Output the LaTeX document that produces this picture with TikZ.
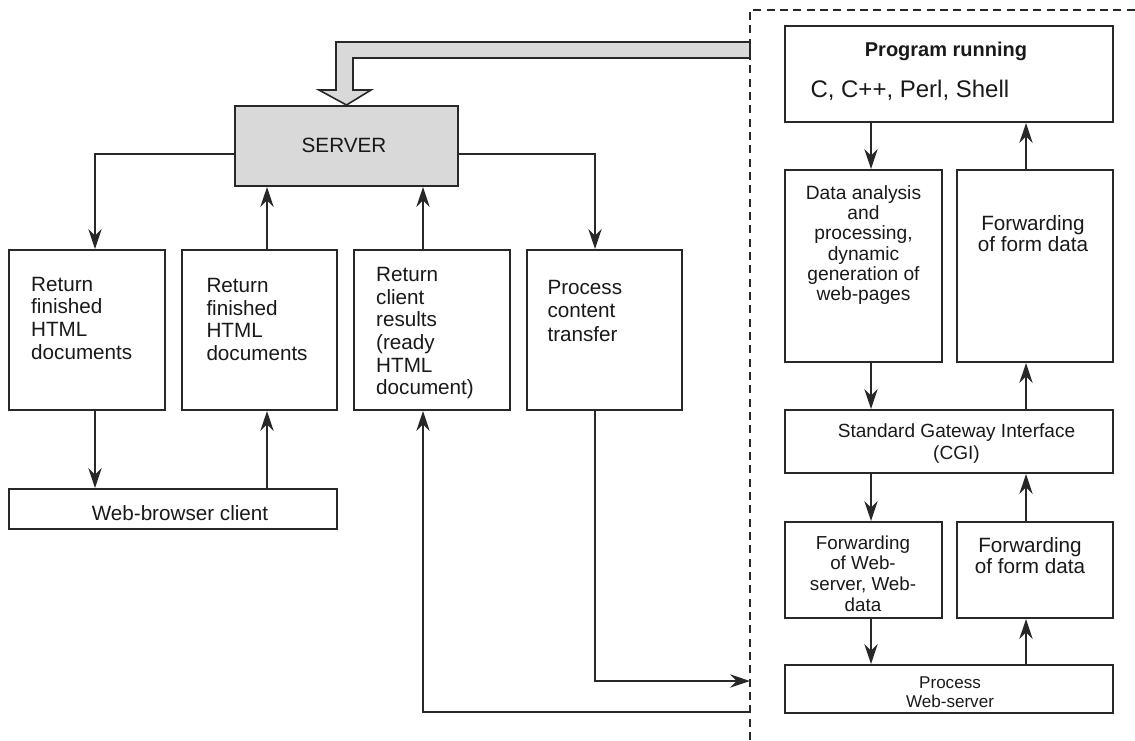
\documentclass[tikz,border=0pt]{standalone}
\usepackage{fontspec}
\setmainfont{Liberation Sans}
\usetikzlibrary{arrows.meta,calc}
\definecolor{linec}{RGB}{40,40,40}
\definecolor{txtc}{RGB}{25,25,25}
\definecolor{srvfill}{RGB}{217,217,217}
\tikzset{every picture/.style={line width=0.75pt}}
\tikzset{
  box/.style={draw=linec, line width=1.5pt, anchor=north west, inner sep=0pt},
  conn/.style={draw=linec, line width=1.3pt, -{Stealth[length=15pt,width=10pt,inset=5pt]}},
  frame/.style={draw=linec, line width=1.5pt, dash pattern=on 6pt off 4pt},
  lbl/.style={inner sep=0pt, text=txtc, align=left, anchor=north west, font=\fontsize{15.5}{16.9}\selectfont},
  ctr/.style={inner sep=0pt, text=txtc, align=center, anchor=north}
}

\begin{document}
\begin{tikzpicture}[x=0.75pt,y=0.75pt,yscale=-1,xscale=1]
\useasboundingbox (0,0) rectangle (1135,740);

%Shape: Rectangle [server]
\node[box, fill=srvfill, minimum width=167.25pt, minimum height=60pt] (server) at (234,105) {};
%Shape: Rectangle [left row]
\node[box, minimum width=117pt, minimum height=120pt] (ret1) at (8,249) {};
\node[box, minimum width=116.25pt, minimum height=120pt] (ret2) at (181,249) {};
\node[box, minimum width=117pt, minimum height=120pt] (ret3) at (353,249) {};
\node[box, minimum width=116.25pt, minimum height=120pt] (proct) at (526,249) {};
\node[box, minimum width=246pt, minimum height=30pt] (client) at (8,488) {};
%Shape: Rectangle [right column]
\node[box, minimum width=246.5pt, minimum height=72pt] (prog) at (783.5,25) {};
\node[box, minimum width=117.75pt, minimum height=144pt] (data) at (783.5,169) {};
\node[box, minimum width=117pt, minimum height=144pt] (fwdA) at (956,169) {};
\node[box, minimum width=246.5pt, minimum height=47.25pt] (cgi) at (783.5,409) {};
\node[box, minimum width=117.75pt, minimum height=72pt] (fwdB) at (783.5,521) {};
\node[box, minimum width=117pt, minimum height=72pt] (fwdC) at (956,521) {};
\node[box, minimum width=246.5pt, minimum height=36pt] (webs) at (783.5,664) {};

%Shape: big arrow into server
\draw[draw=linec, line width=1.2pt, fill=srvfill] (750,42) -- (336,42) -- (336,90) -- (319,90) -- (server.north) -- (371,90) -- (353,90) -- (353,58) -- (750,58) -- cycle;

%Dashed frame
\coordinate (fr1) at (750,740);
\coordinate (fr2) at (750,10);
\coordinate (fr3) at (1135,10);
\draw[frame] (fr1) -- (fr2) -- (fr3);

%connector columns
\coordinate (c1) at (95,0);
\coordinate (c2) at (267,0);
\coordinate (c3) at (423,0);
\coordinate (c4) at (595,0);
\coordinate (cd) at (871,0);
\coordinate (cu) at (1026,0);
\coordinate (gin) at (750,681);
\coordinate (gout) at (750,712);

%Lines [left]
\draw[conn] ($(server.west)+(0,8)$) -| (c1 |- ret1.north);
\draw[conn] ($(server.east)+(0,8)$) -| (c4 |- proct.north);
\draw[conn] (c2 |- ret2.north) -- (c2 |- server.south);
\draw[conn] (c3 |- ret3.north) -- (c3 |- server.south);
\draw[conn] (c1 |- ret1.south) -- (c1 |- client.north);
\draw[conn] (c2 |- client.north) -- (c2 |- ret2.south);
\draw[conn] (c4 |- proct.south) |- (gin);
\draw[conn] (gout) -| (c3 |- ret3.south);
%Lines [right]
\draw[conn] (cd |- prog.south) -- (cd |- data.north);
\draw[conn] (cu |- fwdA.north) -- (cu |- prog.south);
\draw[conn] (cd |- data.south) -- (cd |- cgi.north);
\draw[conn] (cu |- cgi.north) -- (cu |- fwdA.south);
\draw[conn] (cd |- cgi.south) -- (cd |- fwdB.north);
\draw[conn] (cu |- fwdC.north) -- (cu |- cgi.south);
\draw[conn] (cd |- fwdB.south) -- (cd |- webs.north);
\draw[conn] (cu |- webs.north) -- (cu |- fwdC.south);

% Text Node
\node[inner sep=0pt, text=txtc, font=\fontsize{15.5}{17}\selectfont] (tserver) at (344,145) {SERVER};
% Text Node
\node[lbl] (tret1) at (30.7,276.7) {Return\\finished\\HTML\\documents};
% Text Node
\node[lbl] (tret2) at (206,278) {Return\\finished\\HTML\\documents};
% Text Node
\node[lbl, font=\fontsize{15.5}{17}\selectfont] (tret3) at (375.7,266.7) {Return\\client\\results\\(ready\\HTML\\document)};
% Text Node
\node[lbl, font=\fontsize{15.5}{17.4}\selectfont] (tproct) at (547,280) {Process\\content\\transfer};
% Text Node
\node[ctr, font=\fontsize{15.5}{17}\selectfont] (tclient) at (180,505) {Web-browser client};
% Text Node
\node[ctr, font=\bfseries\fontsize{15}{17}\selectfont] (tprog) at (946,41.7) {Program running};
% Text Node
\node[lbl, font=\fontsize{18}{20}\selectfont] (tlang) at (810,80) {C, C++, Perl, Shell};
% Text Node
\node[ctr, font=\fontsize{14.4}{15.2}\selectfont] (tdata) at (863.5,185) {Data analysis\\and\\processing,\\dynamic\\generation of\\web-pages};
% Text Node
\node[ctr, font=\fontsize{15.5}{15.75}\selectfont] (tfwdA) at (1033,215) {Forwarding\\of form data};
% Text Node
\node[ctr, font=\fontsize{14.3}{16.5}\selectfont] (tcgi) at (956.5,423) {Standard Gateway Interface\\(CGI)};
% Text Node
\node[ctr, font=\fontsize{14.1}{15.5}\selectfont] (tfwdB) at (863,535) {Forwarding\\of Web-\\server, Web-\\data};
% Text Node
\node[ctr, font=\fontsize{15.5}{15.75}\selectfont] (tfwdC) at (1030,536.7) {Forwarding\\of form data};
% Text Node
\node[ctr, font=\fontsize{12.8}{14.2}\selectfont] (twebs) at (950,676) {Process\\Web-server};

\end{tikzpicture}
\end{document}
